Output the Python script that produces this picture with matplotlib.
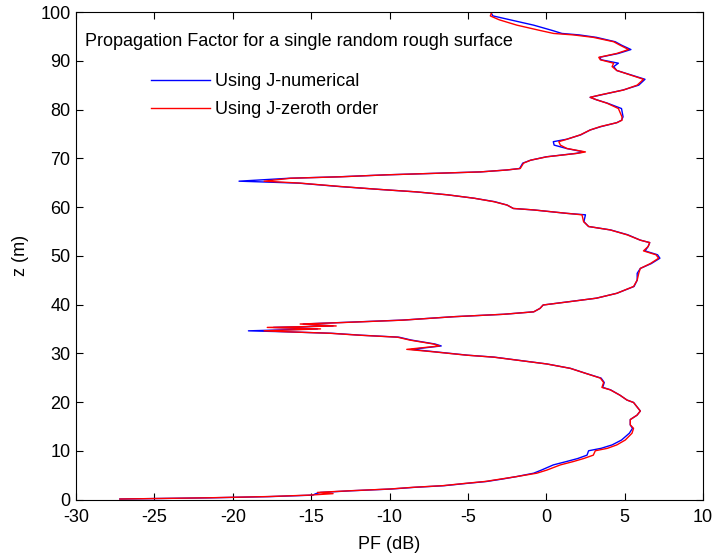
# Propagation factor vs height, J-numerical vs J-zeroth order
import matplotlib
matplotlib.use("Agg")
import matplotlib.pyplot as plt

plt.rcParams['font.family'] = ['Liberation Sans', 'DejaVu Sans']
plt.rcParams['axes.unicode_minus'] = False

# Heights (m), shared by both curves
z = [0.1, 0.35, 0.6, 0.9, 1.2, 1.45, 1.8, 2.15, 2.5, 2.84, 3.3, 3.7, 4.2, 4.7,
     5.4, 6.05, 7.1, 7.8, 8.4, 9.1, 10.0, 10.5, 11.2, 12.2, 13.6, 14.6, 15.3,
     16.4, 17.3, 18.15, 19.0, 19.9, 20.4, 21.4, 22.5, 23.0, 24.0, 24.9, 25.9,
     26.9, 27.8, 28.5, 29.2, 29.6, 30.3, 30.8, 31.5, 31.9, 32.7, 33.3, 33.7,
     34.1, 34.4, 34.6, 35.0, 35.3, 35.6, 36.0, 36.3, 36.8, 37.5, 38.0, 38.5,
     39.2, 39.9, 40.6, 41.3, 42.3, 43.7, 45.0, 46.4, 47.4, 48.4, 49.5, 50.2,
     51.0, 51.9, 52.7, 53.2, 54.3, 55.3, 56.0, 57.0, 58.4, 58.7, 59.4, 59.7,
     60.4, 61.1, 61.8, 62.5, 63.1, 63.6, 64.2, 64.9, 65.3, 65.9, 66.2, 66.6,
     66.9, 67.2, 67.6, 67.9, 69.0, 69.6, 70.3, 71.0, 71.3, 72.0, 72.7, 73.4,
     73.9, 74.8, 75.8, 76.5, 77.3, 77.8, 78.5, 80.2, 81.3, 82.0, 82.5, 83.0,
     84.0, 85.0, 86.2, 87.1, 88.0, 88.8, 89.5, 90.2, 90.7, 91.5, 92.3, 93.2,
     93.9, 94.8, 95.3, 95.6, 96.2, 97.3, 98.4, 99.2, 99.7]

# PF (dB) using J-zeroth order (red)
pf_zero = [-27.2, -21.6, -17.8, -15.1, -13.6, -14.6, -12.5, -10.0, -8.5, -6.6,
           -5.2, -3.9, -2.9, -1.9, -0.6, 0.05, 0.9, 1.74, 2.38, 3.0, 3.13, 3.9,
           4.5, 5.04, 5.47, 5.57, 5.36, 5.36, 5.79, 6.0, 5.79, 5.57, 5.15, 4.7,
           4.08, 3.55, 3.66, 3.45, 2.49, 1.53, 0.04, -1.66, -3.36, -5.06, -7.2,
           -8.9, -6.8, -7.2, -8.7, -9.5, -11.9, -13.8, -16.5, -18.0, -14.4,
           -17.8, -13.4, -15.7, -13.0, -9.1, -5.9, -2.7, -0.8, -0.4, -0.2, 1.53,
           3.2, 4.5, 5.57, 5.8, 5.9, 6.0, 6.64, 7.17, 7.0, 6.2, 6.5, 6.6, 6.0,
           5.15, 4.08, 2.7, 2.38, 2.28, 1.32, -0.8, -2.1, -2.5, -3.36, -4.6,
           -6.3, -8.25, -10.6, -13.1, -15.7, -18.0, -16.3, -13.1, -10.2, -7.2,
           -4.2, -2.5, -1.66, -1.45, -1.0, 0.04, 1.96, 2.5, 1.32, 0.9, 0.8,
           1.32, 2.17, 2.8, 3.45, 4.5, 4.83, 4.83, 4.6, 3.87, 3.2, 2.8, 3.45,
           4.93, 5.8, 6.2, 5.36, 4.5, 4.2, 4.3, 3.45, 3.35, 4.5, 5.25, 4.7, 4.3,
           3.0, 1.74, 0.47, -0.38, -1.87, -3.0, -3.57, -3.5]

# PF (dB) using J-numerical (blue)
pf_num = [-27.2, -21.4, -17.6, -14.9, -14.7, -14.4, -12.4, -9.9, -8.4, -6.5,
          -5.1, -3.8, -2.8, -1.9, -0.8, -0.3, 0.45, 1.3, 2.0, 2.6, 2.7, 3.5,
          4.2, 4.8, 5.3, 5.5, 5.36, 5.36, 5.79, 6.0, 5.79, 5.57, 5.15, 4.7,
          4.1, 3.6, 3.7, 3.5, 2.5, 1.55, 0.05, -1.6, -3.3, -5.0, -7.1, -8.6,
          -6.7, -7.1, -8.6, -9.4, -11.8, -13.7, -16.6, -19.0, -14.6, -17.4,
          -13.6, -15.5, -13.2, -9.2, -5.9, -2.7, -0.8, -0.4, -0.2, 1.5, 3.2,
          4.5, 5.6, 5.8, 5.8, 6.0, 6.7, 7.25, 7.1, 6.3, 6.5, 6.6, 6.0, 5.2,
          4.1, 2.7, 2.4, 2.5, 1.3, -0.8, -2.1, -2.5, -3.3, -4.6, -6.3, -8.3,
          -10.6, -13.2, -15.8, -19.6, -16.4, -13.2, -10.2, -7.2, -4.2, -2.5,
          -1.7, -1.5, -1.0, 0.0, 1.9, 2.4, 1.3, 0.5, 0.45, 1.3, 2.2, 2.8, 3.5,
          4.5, 4.8, 4.9, 4.8, 3.9, 3.2, 2.8, 3.5, 4.9, 5.9, 6.3, 5.4, 4.5, 4.3,
          4.6, 3.5, 3.4, 4.6, 5.4, 4.8, 4.4, 3.2, 2.1, 1.0, 0.4, -0.8, -2.3,
          -3.4, -3.5]

x_ticks = [-30, -25, -20, -15, -10, -5, 0, 5, 10]
y_ticks = [0, 10, 20, 30, 40, 50, 60, 70, 80, 90, 100]

fig = plt.figure(figsize=(7.13, 5.56), dpi=100)
ax = fig.add_axes([0.1066, 0.1016, 0.8794, 0.8768])

ax.plot(pf_num, z, color=(0, 0, 1), lw=1.0, label='Using J-numerical')
ax.plot(pf_zero, z, color=(1, 0, 0), lw=1.0, label='Using J-zeroth order')

ax.set_xlim(-30, 10)
ax.set_ylim(0, 100)
ax.set_xticks(x_ticks)
ax.set_yticks(y_ticks)
ax.tick_params(direction='in', length=5, top=True, right=True, labelsize=13)
ax.tick_params(axis='x', pad=6.5)
ax.tick_params(axis='y', pad=4)

# axis labels placed by hand, like the MATLAB figure
ax.set_xlabel('PF (dB)', fontsize=13, va='center')
ax.xaxis.set_label_coords(0.5, -0.093)
ax.set_ylabel('z (m)', fontsize=13, va='center')
ax.yaxis.set_label_coords(-0.089, 0.5)

ax.text(-29.42, 93.9, 'Propagation Factor for a single random rough surface',
        fontsize=13, va='center', ha='left')

ax.legend(loc='upper left', bbox_to_anchor=(0.1196, 0.874), frameon=False,
          borderaxespad=0, borderpad=0, handlelength=3.28, handletextpad=0.28,
          labelspacing=0.6, fontsize=13)

fig.savefig('out.png', dpi=100)
